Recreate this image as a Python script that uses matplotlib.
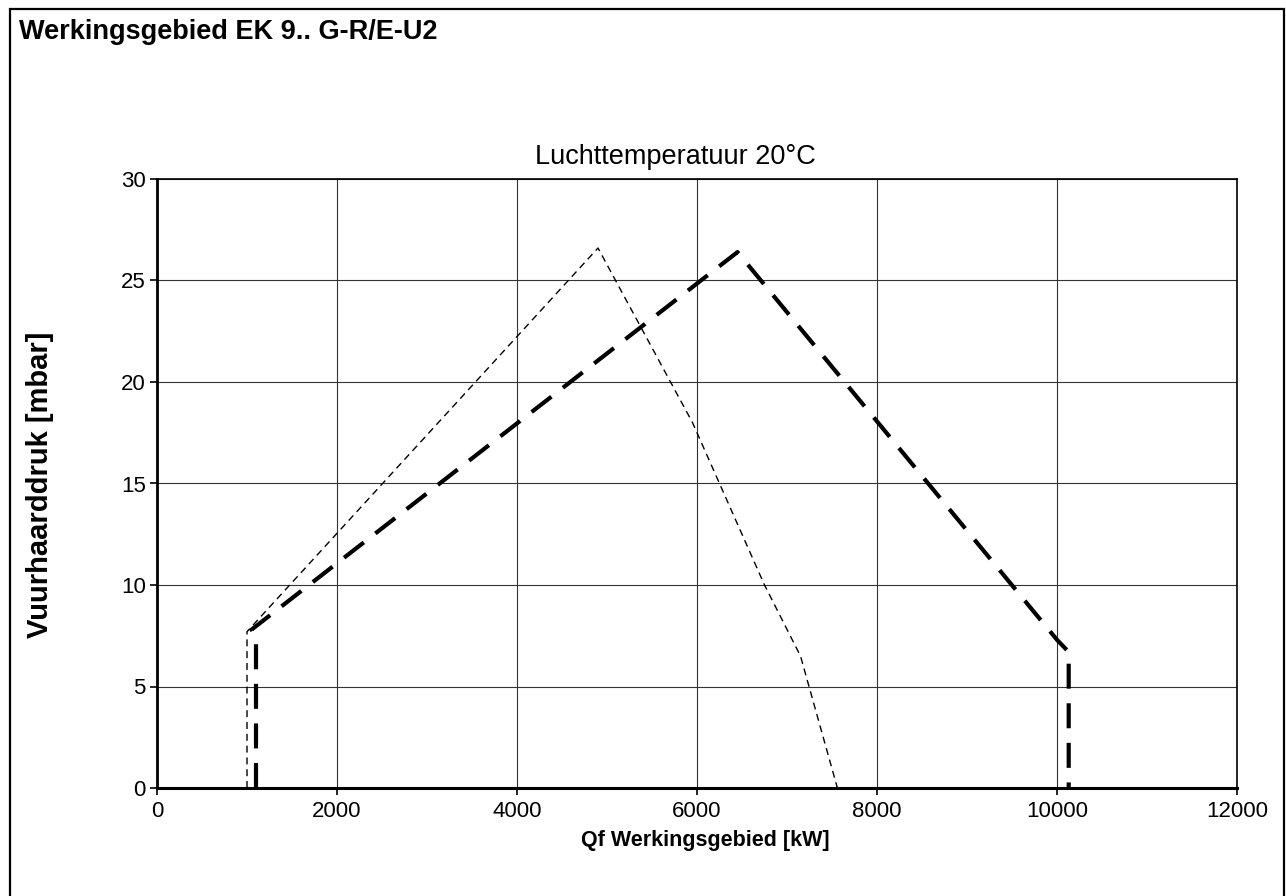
import matplotlib
matplotlib.use("Agg")
import matplotlib.pyplot as plt
from matplotlib.patches import Rectangle

# Data
thin_x = [1000, 1000, 4900, 5950, 6250, 6750, 7150, 7560]
thin_y = [0, 7.7, 26.6, 18.0, 15.0, 10.0, 6.5, 0]
thick_x = [1100, 1100, 1050, 6450, 10000, 10130, 10130]
thick_y = [0, 7.5, 7.8, 26.4, 7.3, 6.7, 0]
x_ticks = [0, 2000, 4000, 6000, 8000, 10000, 12000]
y_ticks = [0, 5, 10, 15, 20, 25, 30]

plt.rcParams['font.family'] = ['Liberation Sans', 'DejaVu Sans']

W, H = 1286, 896
fig = plt.figure(figsize=(W / 100, H / 100), dpi=100)

# outer frame
fig.patches.append(Rectangle((10 / W, -0.02), 1274 / W, 1 - 9 / H + 0.02,
                             transform=fig.transFigure, fill=False,
                             edgecolor='black', linewidth=1.6))

fig.text(19 / W, 1 - 32 / H, "Werkingsgebied EK 9.. G-R/E-U2",
         fontsize=19.5, fontweight='bold', va='center', ha='left')

ax = fig.add_axes([157 / W, 1 - 788 / H, 1080 / W, 609 / H])
ax.plot(thin_x, thin_y, color='black', lw=1.0, dashes=(5, 3.5))
ax.plot(thick_x, thick_y, color='black', lw=3.0, dashes=(6, 3.5))

ax.set_xlim(0, 12000)
ax.set_ylim(0, 30)
ax.set_xticks(x_ticks)
ax.set_yticks(y_ticks)
ax.grid(True, color='#333333', linewidth=0.8)
ax.set_axisbelow(True)
for s in ax.spines.values():
    s.set_linewidth(1.2)
ax.spines['left'].set_linewidth(2.0)
ax.spines['bottom'].set_linewidth(2.2)
ax.tick_params(direction='out', length=5, width=1.2, labelsize=16)
ax.tick_params(axis='x', pad=4)
ax.tick_params(axis='y', pad=3)

fig.text(675 / W, 1 - 157 / H, "Luchttemperatuur 20°C", fontsize=19.5,
         ha='center', va='center')
fig.text(705 / W, 1 - 840 / H, "Qf Werkingsgebied [kW]", fontsize=15.5,
         fontweight='bold', ha='center', va='center')
fig.text(40 / W, 1 - 485 / H, "Vuurhaarddruk [mbar]", fontsize=21,
         fontweight='bold', ha='center', va='center', rotation=90)

fig.savefig("out.png", dpi=100)
